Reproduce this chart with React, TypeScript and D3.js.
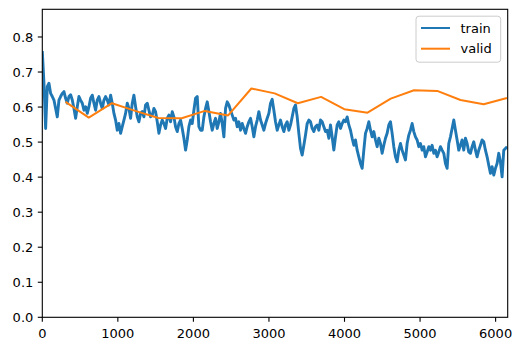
import React from "react";
import * as d3 from "d3";

const trainValues: number[] = [
  0.76, 0.668, 0.539, 0.658, 0.668, 0.639, 0.630, 0.620, 0.596, 0.572,
  0.620, 0.630, 0.639, 0.644, 0.625, 0.611, 0.630, 0.635, 0.620, 0.596,
  0.568, 0.601, 0.630, 0.620, 0.611, 0.591, 0.601, 0.582, 0.601, 0.625,
  0.634, 0.611, 0.591, 0.620, 0.630, 0.611, 0.596, 0.620, 0.630, 0.620,
  0.606, 0.634, 0.611, 0.582, 0.563, 0.534, 0.553, 0.525, 0.544, 0.563,
  0.582, 0.611, 0.596, 0.568, 0.611, 0.634, 0.601, 0.572, 0.558, 0.582,
  0.587, 0.572, 0.606, 0.611, 0.591, 0.572, 0.577, 0.596, 0.587, 0.558,
  0.525, 0.549, 0.563, 0.553, 0.539, 0.568, 0.577, 0.558, 0.587, 0.572,
  0.544, 0.530, 0.553, 0.563, 0.539, 0.511, 0.477, 0.506, 0.544, 0.563,
  0.553, 0.591, 0.625, 0.630, 0.544, 0.534,
  // x ≈ 2100
  0.534, 0.572, 0.596, 0.615, 0.587, 0.558, 0.534, 0.553, 0.568, 0.539,
  0.558, 0.582, 0.553, 0.515, 0.596, 0.615, 0.606, 0.591, 0.577, 0.563,
  0.568, 0.544, 0.558, 0.534, 0.553, 0.539, 0.525, 0.544, 0.558, 0.568,
  0.544, 0.515, 0.544, 0.563, 0.587, 0.563, 0.549, 0.534, 0.553, 0.568,
  0.582, 0.611, 0.622, 0.591, 0.558, 0.534, 0.549, 0.563, 0.544, 0.530,
  0.549, 0.558, 0.534, 0.549, 0.572, 0.596, 0.606, 0.572, 0.525, 0.482,
  0.463, 0.491, 0.520, 0.553, 0.563, 0.558, 0.539, 0.530, 0.544, 0.549,
  0.534, 0.563, 0.558, 0.544, 0.530, 0.534, 0.511, 0.549, 0.515, 0.477,
  0.515, 0.549, 0.558, 0.539, 0.553, 0.563, 0.558, 0.572, 0.549, 0.534,
  0.511, 0.491, 0.506,
  // x ≈ 4150
  0.477, 0.458, 0.439, 0.425, 0.477, 0.525, 0.539, 0.558, 0.534, 0.515,
  0.530, 0.506, 0.487, 0.511, 0.496, 0.468, 0.491, 0.511, 0.525, 0.549,
  0.558, 0.525, 0.487, 0.458, 0.444, 0.477, 0.496, 0.477, 0.463, 0.449,
  0.496, 0.520, 0.534, 0.553, 0.530, 0.515, 0.506, 0.487, 0.496, 0.477,
  0.487, 0.458, 0.472, 0.487, 0.477, 0.491, 0.468, 0.477, 0.458, 0.472,
  0.487, 0.477, 0.468, 0.439, 0.425, 0.496, 0.515, 0.539, 0.563, 0.534,
  0.506, 0.477, 0.491, 0.506, 0.477, 0.511, 0.496, 0.472, 0.468, 0.487,
  0.501, 0.477, 0.458, 0.477, 0.491, 0.506, 0.501, 0.477, 0.458, 0.434,
  0.411, 0.430, 0.406, 0.425, 0.439, 0.468, 0.444, 0.401, 0.477, 0.482,
  0.487,
];
const trainInterval = 22.05;

const validSteps: number[] = [
  307, 615, 922, 1230, 1537, 1845, 2152, 2460, 2767, 3075,
  3382, 3690, 3997, 4305, 4612, 4920, 5227, 5535, 5842, 6150,
];
const validValues: number[] = [
  0.615, 0.570, 0.611, 0.589, 0.569, 0.568, 0.589, 0.576, 0.653, 0.639,
  0.611, 0.629, 0.594, 0.584, 0.624, 0.648, 0.646, 0.620, 0.608, 0.626,
];

const xTicks: number[] = [0, 1000, 2000, 3000, 4000, 5000, 6000];
const yTicks: number[] = [0, 0.1, 0.2, 0.3, 0.4, 0.5, 0.6, 0.7, 0.8];
const seriesNames: string[] = ["train", "valid"];

const W = 523;
const H = 351;
const L = 42.3;
const R = 507.7;
const T = 9.3;
const B = 317.3;
const BLUE = "#1f77b4";
const ORANGE = "#ff7f0e";
const FONT = "'DejaVu Sans', sans-serif";
const FS = 13;

export default function App() {
  const x = d3.scaleLinear().domain([0, 6160]).range([L, R]);
  const y = d3.scaleLinear().domain([0, 0.879]).range([B, T]);

  const train = trainValues.map((v, i) => [i * trainInterval, v] as [number, number]);
  const valid = validSteps.map((s, i) => [s, validValues[i]] as [number, number]);

  const line = d3
    .line<[number, number]>()
    .x((d) => x(d[0]))
    .y((d) => y(d[1]));

  const colors = [BLUE, ORANGE];

  return (
    <svg
      width={W}
      height={H}
      style={{ position: "absolute", left: 0, top: 0, background: "#fff" }}
      fontFamily={FONT}
    >
      <rect x={0} y={0} width={W} height={H} fill="#fff" />
      <defs>
        <clipPath id="plotclip">
          <rect x={L} y={T} width={R - L} height={B - T} />
        </clipPath>
      </defs>
      <g clipPath="url(#plotclip)">
        <path d={line(train) || ""} fill="none" stroke={BLUE} strokeWidth={2.9} strokeLinejoin="round" />
        <path d={line(valid) || ""} fill="none" stroke={ORANGE} strokeWidth={2} strokeLinejoin="round" />
      </g>

      {/* y axis ticks */}
      {yTicks.map((t) => (
        <g key={"y" + t}>
          <line x1={L - 4.5} x2={L} y1={y(t)} y2={y(t)} stroke="#000" strokeWidth={1.1} />
          <text x={L - 9} y={y(t)} dy="0.35em" textAnchor="end" fontSize={FS} fill="#000">
            {d3.format(".1f")(t)}
          </text>
        </g>
      ))}
      {/* x axis ticks */}
      {xTicks.map((t) => (
        <g key={"x" + t}>
          <line x1={x(t)} x2={x(t)} y1={B} y2={B + 4.5} stroke="#000" strokeWidth={1.1} />
          <text x={x(t)} y={B + 20.5} textAnchor="middle" fontSize={FS} fill="#000">
            {t}
          </text>
        </g>
      ))}

      {/* spines */}
      <rect x={L} y={T} width={R - L} height={B - T} fill="none" stroke="#000" strokeWidth={1.1} />

      {/* legend */}
      <rect x={416} y={16.2} width={84.7} height={46} rx={3} fill="#fff" fillOpacity={0.8} stroke="#cccccc" strokeWidth={1} />
      {seriesNames.map((name, i) => {
        const cy = 28 + i * 20.7;
        return (
          <g key={name}>
            <line x1={421} x2={450} y1={cy} y2={cy} stroke={colors[i]} strokeWidth={2} />
            <text x={460.5} y={cy} dy="0.35em" fontSize={FS} fill="#000">
              {name}
            </text>
          </g>
        );
      })}
    </svg>
  );
}
